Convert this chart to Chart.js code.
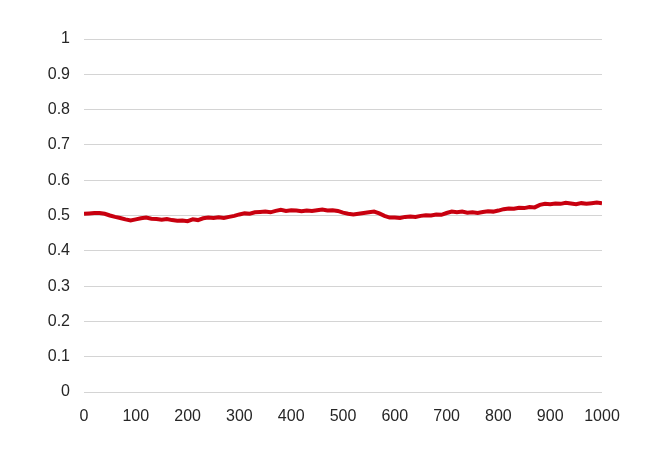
<!DOCTYPE html>
<html>
<head>
<meta charset="utf-8">
<script src="https://cdn.jsdelivr.net/npm/chart.js@4"></script>
<style>
  html, body { margin: 0; padding: 0; background: #fff; }
  #wrap { width: 663px; height: 457px; }
</style>
</head>
<body>
<div id="wrap"><canvas id="chart" width="663" height="457"></canvas></div>
<script>
const steps = [];
for (let i = 0; i <= 1000; i += 10) steps.push(i);

const values = [
  0.505, 0.506, 0.507, 0.507, 0.505, 0.500, 0.496, 0.493, 0.489, 0.486,
  0.489, 0.492, 0.494, 0.491, 0.490, 0.488, 0.490, 0.487, 0.485, 0.486,
  0.484, 0.489, 0.487, 0.492, 0.494, 0.493, 0.495, 0.493, 0.496, 0.499,
  0.503, 0.506, 0.505, 0.509, 0.510, 0.511, 0.509, 0.513, 0.516, 0.513,
  0.515, 0.514, 0.512, 0.514, 0.513, 0.515, 0.517, 0.514, 0.515, 0.513,
  0.508, 0.505, 0.503, 0.505, 0.507, 0.509, 0.511, 0.506, 0.499, 0.494,
  0.494, 0.493, 0.496, 0.497, 0.496, 0.499, 0.501, 0.500, 0.503, 0.502,
  0.507, 0.511, 0.509, 0.511, 0.508, 0.509, 0.507, 0.510, 0.512, 0.511,
  0.514, 0.518, 0.520, 0.519, 0.522, 0.521, 0.524, 0.523, 0.530, 0.533,
  0.532, 0.534, 0.533, 0.536, 0.534, 0.532, 0.535, 0.533, 0.535, 0.537,
  0.535
];

const xTicks = [0, 100, 200, 300, 400, 500, 600, 700, 800, 900, 1000];
const yTicks = [0, 0.1, 0.2, 0.3, 0.4, 0.5, 0.6, 0.7, 0.8, 0.9, 1];

const font = { family: "'Liberation Sans', Arial, sans-serif", size: 16 };
const textColor = '#262626';

new Chart(document.getElementById('chart').getContext('2d'), {
  type: 'line',
  data: {
    datasets: [{
      data: steps.map((x, i) => ({ x: x, y: values[i] })),
      borderColor: '#c8000f',
      borderWidth: 4,
      pointRadius: 0,
      tension: 0,
      fill: false
    }]
  },
  options: {
    responsive: false,
    animation: false,
    layout: { padding: { left: 0, right: 61, top: 39, bottom: 0 } },
    plugins: { legend: { display: false }, tooltip: { enabled: false } },
    scales: {
      x: {
        type: 'linear',
        min: 0,
        max: 1000,
        afterBuildTicks: s => { s.ticks = xTicks.map(v => ({ value: v })); },
        afterFit: s => { s.height = 65; },
        grid: { display: false, drawTicks: false },
        border: { display: false },
        ticks: { font: font, color: textColor, padding: 15, maxRotation: 0, autoSkip: false,
                 callback: v => String(v) }
      },
      y: {
        min: 0,
        max: 1,
        afterBuildTicks: s => { s.ticks = yTicks.map(v => ({ value: v })); },
        afterFit: s => { s.width = 84; },
        grid: { color: '#d4d4d4', lineWidth: 1, drawTicks: false },
        border: { display: false },
        ticks: { font: font, color: textColor, padding: 14,
                 callback: v => String(+v.toFixed(1)) }
      }
    }
  }
});
</script>
</body>
</html>
